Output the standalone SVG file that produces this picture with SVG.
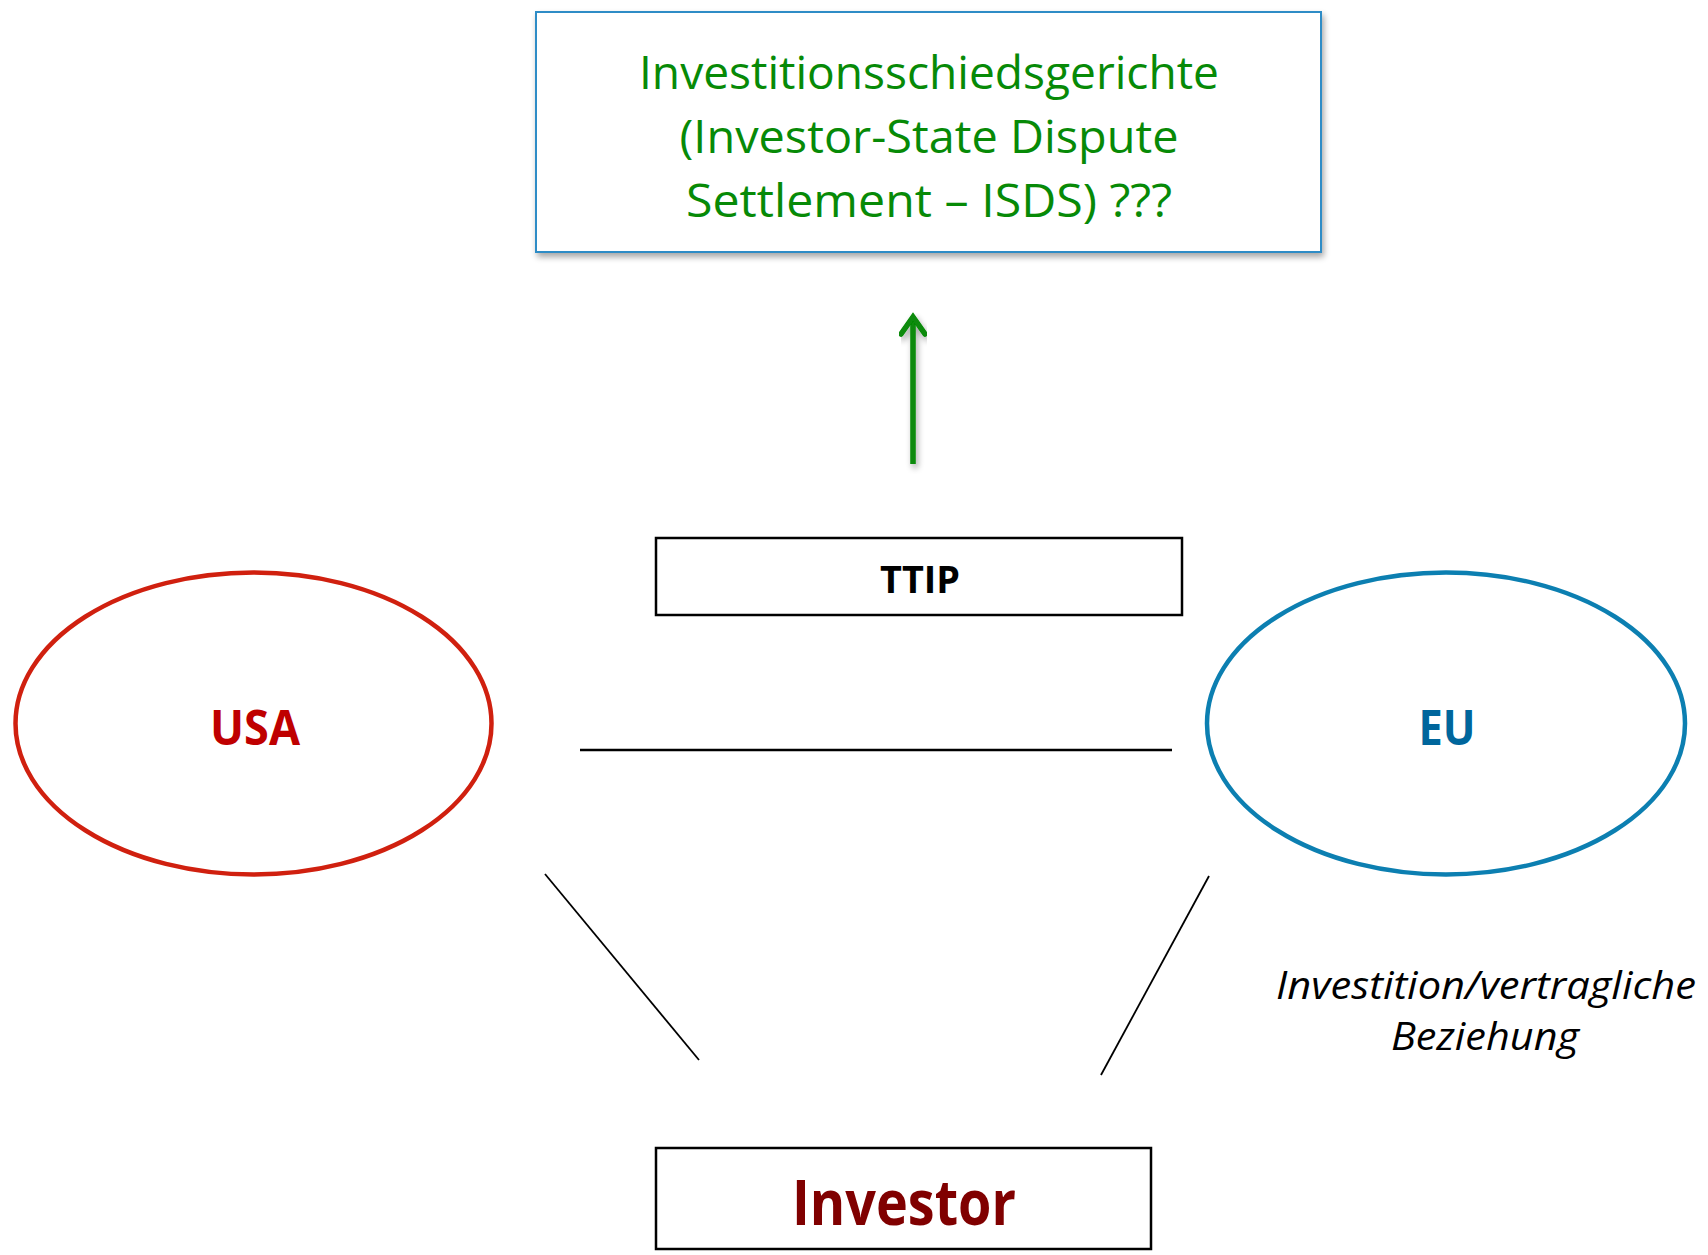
<svg xmlns="http://www.w3.org/2000/svg" width="1708" height="1255" viewBox="0 0 1708 1255">
<style>
.box{fill:#ffffff;stroke:#000000;stroke-width:2.5}
.sans{font-family:"Open Sans","Noto Sans","Liberation Sans",sans-serif}
.bold{font-weight:bold}
.line{stroke:#000000;fill:none}
</style>
<defs>
<filter id="shadow" x="-5%" y="-5%" width="112%" height="115%">
<feGaussianBlur in="SourceAlpha" stdDeviation="3"/>
<feOffset dx="2" dy="4" result="b"/>
<feComponentTransfer><feFuncA type="linear" slope="0.35"/></feComponentTransfer>
<feMerge><feMergeNode/><feMergeNode in="SourceGraphic"/></feMerge>
</filter>
</defs>
<rect width="1708" height="1255" fill="#ffffff"/>

<g id="isds">
<rect x="536" y="12" width="785" height="240" fill="#ffffff" stroke="#2f8cc6" stroke-width="2" filter="url(#shadow)"/>
<g class="sans" fill="#078a07" font-size="45" text-anchor="middle">
<text x="929" y="89" textLength="580" lengthAdjust="spacingAndGlyphs">Investitionsschiedsgerichte</text>
<text x="929" y="153" textLength="499" lengthAdjust="spacingAndGlyphs">(Investor-State Dispute</text>
<text x="929" y="217" textLength="486" lengthAdjust="spacingAndGlyphs">Settlement – ISDS) ???</text>
</g>
</g>

<g id="ttip">
<rect class="box" x="656" y="538" width="526" height="77"/>
<text class="sans bold" x="920" y="593" font-size="38" text-anchor="middle" textLength="80" lengthAdjust="spacingAndGlyphs" fill="#000000">TTIP</text>
</g>

<g id="usa">
<ellipse cx="253.5" cy="723.5" rx="238" ry="151" fill="none" stroke="#d0200f" stroke-width="4.5"/>
<text class="sans bold" x="255" y="745" font-size="48" text-anchor="middle" textLength="90" lengthAdjust="spacingAndGlyphs" fill="#bf0000">USA</text>
</g>

<g id="eu">
<ellipse cx="1446" cy="723.5" rx="239" ry="151" fill="none" stroke="#0c7fb1" stroke-width="4.5"/>
<text class="sans bold" x="1447" y="745" font-size="48" text-anchor="middle" textLength="57" lengthAdjust="spacingAndGlyphs" fill="#00669c">EU</text>
</g>

<g id="investor">
<rect class="box" x="656" y="1148" width="495" height="101"/>
<text class="sans bold" x="904" y="1225" font-size="63" text-anchor="middle" textLength="224" lengthAdjust="spacingAndGlyphs" fill="#800000">Investor</text>
</g>

<g id="relation-label">
<g class="sans" font-style="italic" font-size="38" fill="#000000" text-anchor="middle">
<text x="1486" y="999" textLength="420" lengthAdjust="spacingAndGlyphs">Investition/vertragliche</text>
<text x="1485" y="1050" textLength="188" lengthAdjust="spacingAndGlyphs">Beziehung</text>
</g>
</g>

<g id="connectors">
<g filter="url(#shadow)">
<line x1="913" y1="464" x2="913" y2="318" stroke="#078a07" stroke-width="5.5"/>
<polyline points="901,334 913,317 925,334" fill="none" stroke="#078a07" stroke-width="5.5" stroke-linecap="round" stroke-linejoin="miter"/>
</g>
<line class="line" x1="580" y1="750" x2="1172" y2="750" stroke-width="2.5"/>
<line class="line" x1="545" y1="874" x2="699" y2="1060" stroke-width="1.8"/>
<line class="line" x1="1209" y1="876" x2="1101" y2="1075" stroke-width="1.8"/>
</g>
</svg>
